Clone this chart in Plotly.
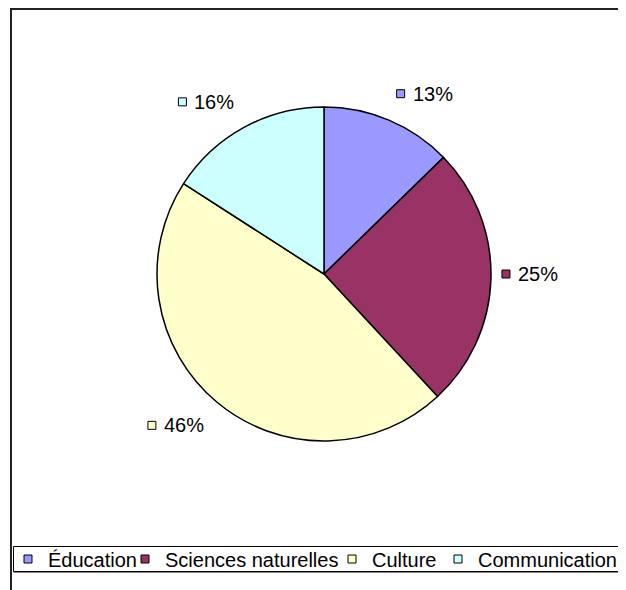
import math
import plotly.graph_objects as go

# ---- data ----
categories = ["Éducation", "Sciences naturelles", "Culture", "Communication"]
values = [12.7, 25.4, 46.0, 15.9]
colors = ["#9999FF", "#993366", "#FFFFCC", "#CCFFFF"]

# page geometry (the html body adds an 8px margin)
OFF = 8
PW, PH = 626, 590
W, H = PW - OFF, PH - OFF
CX, CY, R = 324, 274, 167
FONT = "Arial, Liberation Sans, sans-serif"


def px(xp):
    return (xp - OFF) / W


def py(yp):
    return 1 - (yp - OFF) / H


fig = go.Figure()

fig.add_trace(go.Pie(
    labels=categories, values=values, sort=False, direction="clockwise", rotation=0,
    marker=dict(colors=colors, line=dict(color="black", width=1.5)),
    textinfo="none", hoverinfo="label+percent", showlegend=False,
    domain=dict(x=[px(CX - R), px(CX + R)], y=[py(CY + R), py(CY - R)]),
))

# data labels (square key + percent), placed from each slice's mid-angle
total = sum(values)
cum = 0.0
sq_x, sq_y = [], []
annotations = []
for v, col in zip(values, colors):
    mid = (cum + v / 2) / total * 2 * math.pi
    cum += v
    s, c = math.sin(mid), math.cos(mid)
    BW, BH = 56, 16
    if abs(c) < 0.3:
        d = R + 11
        ax, ay = CX + d * s, CY - d * c
        yc = CY
    else:
        d = R + 20
        ax, ay = CX + d * s, CY - d * c
        yc = ay - BH / 2 if c > 0 else ay + BH / 2
    if s > 0.1:
        left = ax
    elif s < -0.1:
        left = ax - BW
    else:
        left = ax - BW / 2
    sq_x.append(left + 4)
    sq_y.append(yc)
    annotations.append(dict(
        x=left + 14, y=yc, xref="x", yref="y", xanchor="left", yanchor="middle",
        text=f"{round(v / total * 100)}%", showarrow=False,
        font=dict(family=FONT, size=20, color="black"),
    ))

fig.add_trace(go.Scatter(
    x=sq_x, y=sq_y, mode="markers", hoverinfo="skip", showlegend=False,
    marker=dict(symbol="square", size=8, color=colors, line=dict(color="black", width=1)),
))

# legend entries
legend_widths = [72, 162, 61, 139]
for name, col, lw in zip(categories, colors, legend_widths):
    fig.add_trace(go.Scatter(
        x=[None], y=[None], mode="markers", name=name, legendwidth=lw,
        marker=dict(symbol="square", size=8, color=col, line=dict(color="black", width=1)),
    ))

shapes = [
    # outer chart border
    dict(type="rect", xref="x", yref="y", x0=11, y0=9, x1=PW + 20, y1=PH + 20,
         line=dict(color="#222222", width=2)),
    # legend box
    dict(type="rect", xref="x", yref="y", x0=13.5, y0=546.5, x1=PW + 20, y1=571.5,
         line=dict(color="black", width=1)),
    dict(type="line", xref="x", yref="y", x0=13.5, y0=572.5, x1=PW + 20, y1=572.5,
         line=dict(color="#888888", width=1)),
]

fig.update_layout(
    width=W, height=H,
    margin=dict(l=0, r=0, t=0, b=0),
    paper_bgcolor="white", plot_bgcolor="rgba(0,0,0,0)",
    xaxis=dict(range=[OFF, PW], visible=False, fixedrange=True, domain=[0, 1]),
    yaxis=dict(range=[PH, OFF], visible=False, fixedrange=True, domain=[0, 1]),
    showlegend=True,
    legend=dict(orientation="h", x=0, xanchor="left", y=py(559), yanchor="middle",
                bgcolor="rgba(0,0,0,0)", borderwidth=0,
                font=dict(family=FONT, size=20, color="black"), itemclick=False),
    shapes=shapes,
    annotations=annotations,
    font=dict(family=FONT),
)

fig.write_html("out.html")
